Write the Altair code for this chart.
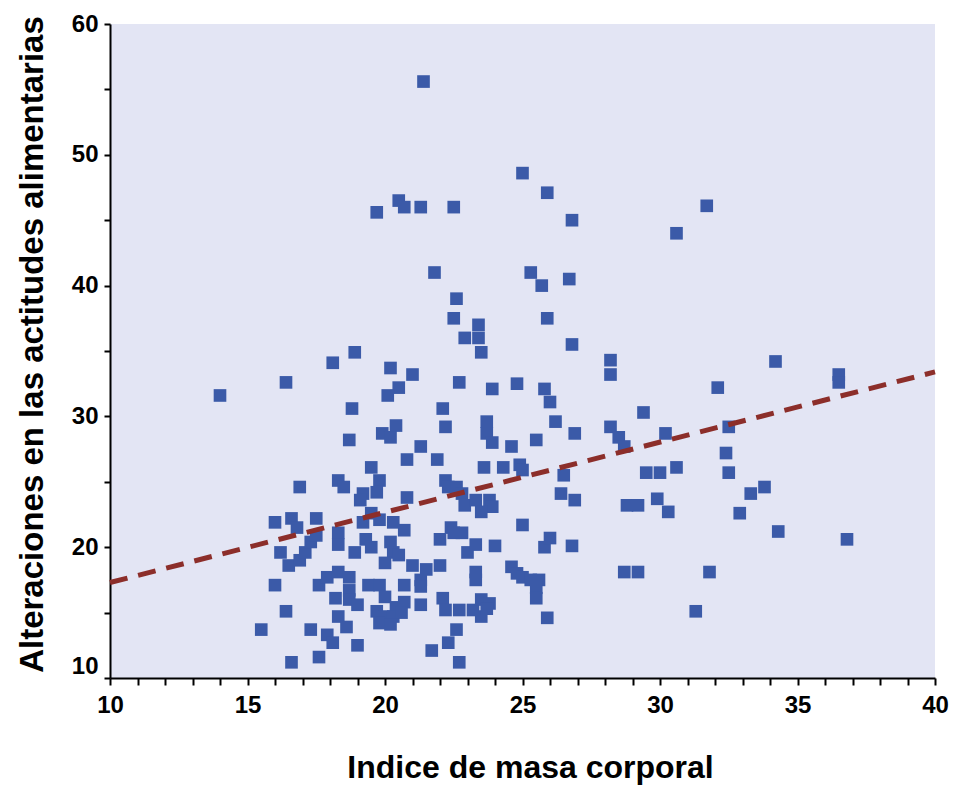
import altair as alt
import pandas as pd

# Índice de masa corporal (x) and alteraciones en las actitudes alimentarias (y)
bmi = [21.4, 25.0, 25.9, 26.8, 31.7, 30.6, 19.7, 20.5, 20.7, 21.3, 22.5, 21.8, 25.3, 25.7, 26.7,
       22.6, 22.5, 25.9, 22.9, 23.4, 23.4, 23.5, 26.8, 18.9, 18.1, 28.2, 28.2, 34.2, 36.5, 36.5,
       16.4, 14.0, 20.2, 21.0, 20.5, 20.1, 22.7, 23.9, 24.8, 25.8, 26.0, 32.1, 18.8, 22.1, 22.2,
       18.7, 19.9, 20.2, 20.4, 21.3, 20.8, 21.9, 23.7, 23.7, 23.9, 24.6, 25.5, 26.2, 26.9, 29.4,
       28.2, 28.5, 28.7, 30.2, 32.5, 32.4, 32.5, 33.3, 33.8, 32.9, 34.3, 36.8, 31.3, 31.8, 30.6,
       29.5, 30.0, 28.8, 29.2, 29.9, 30.3, 28.7, 29.2, 26.5, 26.4, 26.9, 23.6, 24.3, 24.9, 25.0,
       22.2, 22.3, 22.6, 22.8, 16.9, 18.3, 18.5, 19.5, 19.8, 19.2, 19.7, 19.1, 20.8, 22.9, 23.3,
       23.8, 23.9, 23.5, 16.0, 16.6, 16.8, 17.5, 19.5, 19.2, 19.8, 20.3, 20.7, 22.4, 25.0, 16.2,
       16.5, 16.9, 17.1, 17.3, 17.5, 18.3, 18.3, 18.9, 19.3, 19.5, 20.2, 20.3, 20.0, 22.0, 22.5,
       22.8, 23.0, 23.3, 24.0, 25.8, 26.0, 26.8, 20.5, 21.0, 21.5, 22.0, 20.7, 21.3, 21.3, 23.3,
       23.3, 24.6, 24.8, 25.0, 25.3, 25.6, 25.5, 25.5, 25.9, 16.0, 17.6, 17.9, 18.3, 18.7, 18.7,
       18.2, 18.7, 19.0, 19.4, 19.8, 20.0, 19.7, 20.0, 20.4, 19.8, 20.7, 20.3, 20.6, 20.2, 21.3,
       22.1, 22.2, 22.7, 23.2, 23.5, 23.8, 23.5, 18.3, 18.6, 16.4, 15.5, 17.3, 17.9, 18.1, 19.0,
       17.6, 16.6, 22.6, 22.3, 21.7, 22.7, 23.7]
eat = [55.6, 48.6, 47.1, 45.0, 46.1, 44.0, 45.6, 46.5, 46.0, 46.0, 46.0, 41.0, 41.0, 40.0, 40.5,
       39.0, 37.5, 37.5, 36.0, 37.0, 36.0, 34.9, 35.5, 34.9, 34.1, 34.3, 33.2, 34.2, 33.2, 32.6,
       32.6, 31.6, 33.7, 33.2, 32.2, 31.6, 32.6, 32.1, 32.5, 32.1, 31.1, 32.2, 30.6, 30.6, 29.2,
       28.2, 28.7, 28.4, 29.3, 27.7, 26.7, 26.7, 29.6, 28.7, 28.0, 27.7, 28.2, 29.6, 28.7, 30.3,
       29.2, 28.4, 27.7, 28.7, 29.2, 27.2, 25.7, 24.1, 24.6, 22.6, 21.2, 20.6, 15.1, 18.1, 26.1,
       25.7, 25.7, 23.2, 23.2, 23.7, 22.7, 18.1, 18.1, 25.5, 24.1, 23.6, 26.1, 26.1, 26.3, 25.9,
       25.1, 24.6, 24.6, 24.1, 24.6, 25.1, 24.6, 26.1, 25.1, 24.1, 24.2, 23.6, 23.8, 23.2, 23.6,
       23.6, 23.1, 22.7, 21.9, 22.2, 21.5, 22.2, 22.6, 21.9, 22.1, 21.9, 21.3, 21.5, 21.7, 19.6,
       18.6, 19.0, 19.6, 20.4, 20.9, 21.1, 20.2, 19.6, 20.6, 20.0, 20.4, 19.6, 18.8, 20.6, 21.1,
       21.1, 19.6, 20.2, 20.1, 20.0, 20.7, 20.1, 19.4, 18.6, 18.3, 18.6, 17.1, 17.5, 17.0, 18.1,
       17.5, 18.5, 18.0, 17.7, 17.5, 17.5, 16.9, 16.1, 14.6, 17.1, 17.1, 17.7, 18.1, 17.7, 16.7,
       16.1, 16.0, 15.6, 17.1, 17.1, 16.2, 15.1, 14.7, 15.4, 14.2, 15.8, 14.7, 15.0, 14.1, 15.6,
       16.1, 15.2, 15.2, 15.2, 16.0, 15.7, 14.7, 14.7, 13.9, 15.1, 13.7, 13.7, 13.3, 12.7, 12.5,
       11.6, 11.2, 13.7, 12.7, 12.1, 11.2, 15.3]

# dashed fit line end points
line_x = [10, 40]
line_y = [17.3, 33.4]

x_ticks = list(range(10, 41))
y_ticks = list(range(10, 61, 5))

pts = pd.DataFrame({"bmi": bmi, "eat": eat, "kind": "p"})
ln = pd.DataFrame({"bmi": line_x, "eat": line_y, "kind": "l"})
df = pd.concat([pts, ln], ignore_index=True)

FONT = "Liberation Sans"
xs = alt.Scale(domain=[10, 40], nice=False, zero=False)
ys = alt.Scale(domain=[10, 60], nice=False, zero=False)

x_axis = alt.Axis(
    values=x_ticks,
    labelExpr="datum.value % 5 == 0 ? datum.label : ''",
    labelFlush=False,
    title="Indice de masa corporal",
    titleX=420, titleY=99, titleBaseline="alphabetic", titleAlign="center",
    tickSize=7, labelPadding=8,
)
y_axis = alt.Axis(
    values=y_ticks,
    labelExpr="datum.value % 10 == 0 ? datum.label : ''",
    labelFlush=False,
    labelBaseline={"condition": {"test": "datum.value == 10", "value": "bottom"}, "value": "middle"},
    title="Alteraciones en las actitudes alimentarias",
    titleAngle=270, titleX=-68, titleY=320, titleBaseline="alphabetic", titleAlign="center",
    tickSize=6, labelPadding=6,
)

base = alt.Chart(df).encode(
    x=alt.X("bmi:Q", scale=xs, axis=x_axis),
    y=alt.Y("eat:Q", scale=ys, axis=y_axis),
)

points = base.transform_filter(alt.datum.kind == "p").mark_square(
    size=160, color="#3b5aa8", opacity=1, filled=True)
line = base.transform_filter(alt.datum.kind == "l").mark_line(
    color="#8c2e2a", strokeWidth=5, strokeDash=[18, 11])

chart = alt.layer(points, line).properties(
    width=825, height=654,
    autosize=alt.AutoSizeParams(type="none"),
    padding={"left": 102, "top": 16, "right": 14, "bottom": 110},
    background="white",
).configure_view(
    strokeWidth=0, fill="#e3e5f4"
).configure_axis(
    grid=False, tickWidth=2, domainWidth=2,
    domainColor="black", tickColor="black",
    labelOverlap=False, labelFontSize=24, labelFontWeight="bold",
    labelColor="black", labelFont=FONT,
    titleFont=FONT, titleFontWeight="bold", titleColor="black",
).configure_axisX(titleFontSize=32).configure_axisY(titleFontSize=33)

chart.save("out.html", embed_options={"renderer": "svg", "actions": False})
